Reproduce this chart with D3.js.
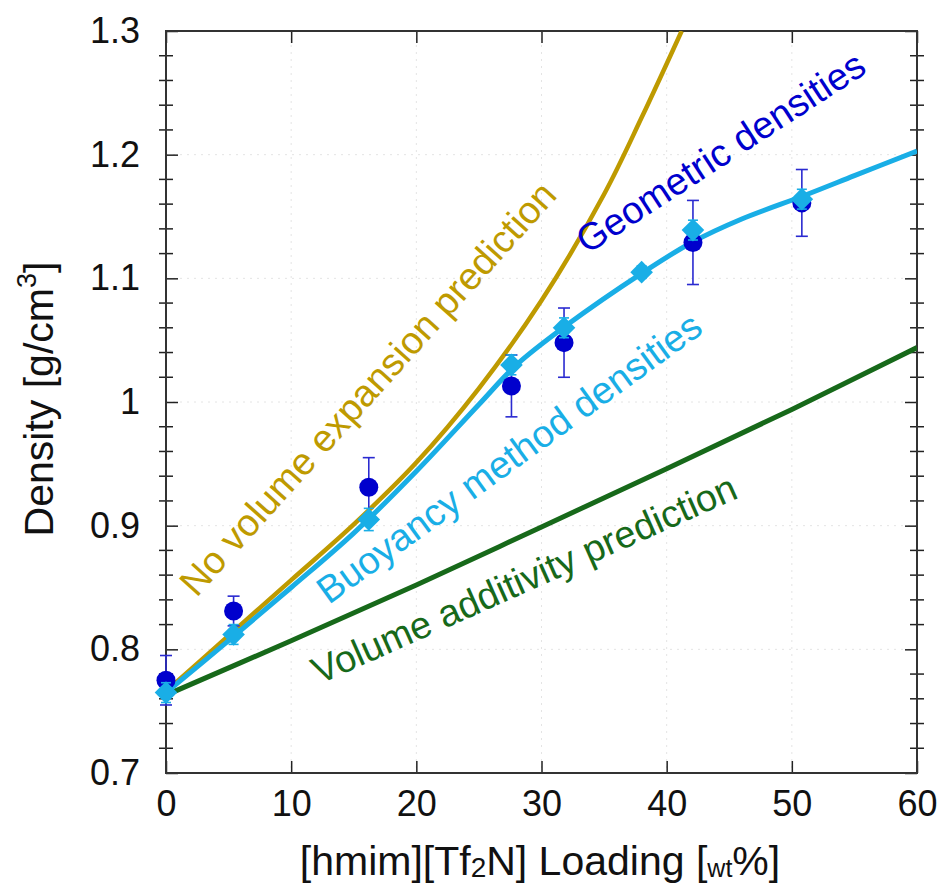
<!DOCTYPE html>
<html>
<head>
<meta charset="utf-8">
<script src="https://cdn.jsdelivr.net/npm/d3@7"></script>
<style>
  body { margin: 0; background: #fff; }
  svg { font-family: "Liberation Sans", Arial, sans-serif; }
</style>
</head>
<body>
<script>
// data
var geoX = [0, 5.4, 16.2, 27.6, 31.8, 42.1, 50.8];
var geoY = [0.775, 0.831, 0.931, 1.013, 1.048, 1.129, 1.161];
var geoErr = [0.02, 0.012, 0.024, 0.025, 0.028, 0.034, 0.027];

var buoyX = [0, 5.4, 16.2, 27.6, 31.8, 38.0, 42.1, 50.8];
var buoyY = [0.765, 0.812, 0.905, 1.030, 1.060, 1.105, 1.139, 1.164];
var buoyErr = [0.008, 0.008, 0.009, 0.008, 0.008, 0.005, 0.008, 0.008];

var fitX = [0, 5, 10, 15, 20, 25, 28, 32, 38, 42, 46, 51, 55, 60];
var fitY = [0.765, 0.807, 0.850, 0.894, 0.944, 0.998, 1.030, 1.062, 1.104, 1.129, 1.148, 1.167, 1.183, 1.203];

var noExpX = [0, 5, 10, 15, 20, 25, 30, 35, 38, 41.2];
var noExpY = [0.766, 0.811, 0.856, 0.901, 0.951, 1.011, 1.082, 1.168, 1.230, 1.300];

var addX = [0, 10, 20, 30, 40, 50, 60];
var addY = [0.763, 0.807, 0.852, 0.899, 0.946, 0.994, 1.044];

var xTicks = [0, 10, 20, 30, 40, 50, 60];
var yTicks = [0.7, 0.8, 0.9, 1.0, 1.1, 1.2, 1.3];
var yTickLabels = ['0.7', '0.8', '0.9', '1', '1.1', '1.2', '1.3'];

var width = 940, height = 886;
var margin = {top: 31, right: 23, bottom: 113, left: 166};
var w = width - margin.left - margin.right;
var h = height - margin.top - margin.bottom;

var gold = '#BE9A00', cyan = '#19AEE6', navy = '#0000CD', green = '#17691A';

var svg = d3.select('body').append('svg').attr('width', width).attr('height', height);
var g = svg.append('g').attr('transform', 'translate(' + margin.left + ',' + margin.top + ')');

var x = d3.scaleLinear().domain([0, 60]).range([0, w]);
var y = d3.scaleLinear().domain([0.7, 1.3]).range([h, 0]);

// faint dotted grid
g.selectAll('.gx').data(xTicks.slice(1, -1)).enter().append('line')
  .attr('x1', function(d) { return x(d); }).attr('x2', function(d) { return x(d); })
  .attr('y1', 0).attr('y2', h)
  .attr('stroke', '#e4e4e4').attr('stroke-dasharray', '2,5');
g.selectAll('.gy').data(yTicks.slice(1, -1)).enter().append('line')
  .attr('y1', function(d) { return y(d); }).attr('y2', function(d) { return y(d); })
  .attr('x1', 0).attr('x2', w)
  .attr('stroke', '#e4e4e4').attr('stroke-dasharray', '2,5');

// axes
var xAxis = d3.axisBottom(x).tickValues(xTicks).tickSize(-12).tickPadding(17);
var xTop = d3.axisTop(x).tickValues(xTicks).tickSize(-12).tickFormat('');
var yAxis = d3.axisLeft(y).tickValues(yTicks).tickSize(-12).tickPadding(26)
  .tickFormat(function(d, i) { return yTickLabels[i]; });
var yRight = d3.axisRight(y).tickValues(yTicks).tickSize(-12).tickFormat('');

function styleAxis(sel) {
  sel.select('.domain').remove();
  sel.selectAll('line').attr('stroke', '#222').attr('stroke-width', 1.5);
  sel.selectAll('text').attr('fill', '#111').style('font-size', '36px')
    .style('font-family', '"Liberation Sans", Arial, sans-serif');
}
g.append('g').attr('transform', 'translate(0,' + h + ')').call(xAxis).call(styleAxis);
g.append('g').call(xTop).call(styleAxis);
g.append('g').call(yAxis).call(styleAxis);
g.append('g').attr('transform', 'translate(' + w + ',0)').call(yRight).call(styleAxis);

// minor y ticks crossing both side axes
var minor = d3.range(0.72, 1.3, 0.02).filter(function(d) {
  return Math.abs(Math.round(d * 10) - d * 10) > 0.01;
});
[0, w].forEach(function(px) {
  g.selectAll(null).data(minor).enter().append('line')
    .attr('x1', px - 7).attr('x2', px + 7)
    .attr('y1', function(d) { return y(d); }).attr('y2', function(d) { return y(d); })
    .attr('stroke', '#222').attr('stroke-width', 1.5);
});

g.append('rect').attr('width', w).attr('height', h)
  .attr('fill', 'none').attr('stroke', '#333').attr('stroke-width', 2);

// curves
var clip = svg.append('clipPath').attr('id', 'plotclip');
clip.append('rect').attr('width', w).attr('height', h);
var curves = g.append('g').attr('clip-path', 'url(#plotclip)');
var line = d3.line().curve(d3.curveCatmullRom)
  .x(function(d) { return x(d[0]); }).y(function(d) { return y(d[1]); });

curves.append('path').datum(d3.zip(addX, addY)).attr('d', line)
  .attr('fill', 'none').attr('stroke', green).attr('stroke-width', 5);
curves.append('path').datum(d3.zip(noExpX, noExpY)).attr('d', line)
  .attr('fill', 'none').attr('stroke', gold).attr('stroke-width', 4.5);
curves.append('path').datum(d3.zip(fitX, fitY)).attr('d', line)
  .attr('fill', 'none').attr('stroke', cyan).attr('stroke-width', 5);

// geometric densities with error bars
var geo = d3.zip(geoX, geoY, geoErr);
var eb = g.append('g');
geo.forEach(function(d) {
  eb.append('line').attr('x1', x(d[0])).attr('x2', x(d[0]))
    .attr('y1', y(d[1] - d[2])).attr('y2', y(d[1] + d[2]));
  [d[1] - d[2], d[1] + d[2]].forEach(function(v) {
    eb.append('line').attr('x1', x(d[0]) - 6).attr('x2', x(d[0]) + 6)
      .attr('y1', y(v)).attr('y2', y(v));
  });
});
eb.selectAll('line').attr('stroke', '#2a2ad0').attr('stroke-width', 1.6);

g.selectAll('.geo').data(geo).enter().append('circle')
  .attr('cx', function(d) { return x(d[0]); }).attr('cy', function(d) { return y(d[1]); })
  .attr('r', 9.5).attr('fill', navy);

// buoyancy densities
var buoy = d3.zip(buoyX, buoyY, buoyErr);
var eb2 = g.append('g');
buoy.forEach(function(d) {
  eb2.append('line').attr('x1', x(d[0])).attr('x2', x(d[0]))
    .attr('y1', y(d[1] - d[2])).attr('y2', y(d[1] + d[2]));
  [d[1] - d[2], d[1] + d[2]].forEach(function(v) {
    eb2.append('line').attr('x1', x(d[0]) - 5).attr('x2', x(d[0]) + 5)
      .attr('y1', y(v)).attr('y2', y(v));
  });
});
eb2.selectAll('line').attr('stroke', cyan).attr('stroke-width', 1.6);

var diamond = d3.symbol().type(d3.symbolSquare).size(256);
g.selectAll('.buoy').data(buoy).enter().append('path')
  .attr('d', diamond)
  .attr('transform', function(d) { return 'translate(' + x(d[0]) + ',' + y(d[1]) + ') rotate(45)'; })
  .attr('fill', cyan);

// curve labels
var labels = [
  {text: 'No volume expansion prediction', lx: 16.1, ly: 1.011, angle: -48, color: gold},
  {text: 'Buoyancy method densities', lx: 27.4, ly: 0.955, angle: -36, color: cyan},
  {text: 'Geometric densities', lx: 44.3, ly: 1.202, angle: -33, color: navy},
  {text: 'Volume additivity prediction', lx: 28.6, ly: 0.857, angle: -24, color: green}
];
g.selectAll('.lab').data(labels).enter().append('text')
  .attr('transform', function(d) { return 'translate(' + x(d.lx) + ',' + y(d.ly) + ') rotate(' + d.angle + ')'; })
  .attr('text-anchor', 'middle').attr('dy', '0.35em')
  .attr('fill', function(d) { return d.color; })
  .style('font-size', '38px')
  .text(function(d) { return d.text; });

// axis titles
var xt = svg.append('text').attr('x', 540).attr('y', 875)
  .attr('text-anchor', 'middle').attr('fill', '#111').style('font-size', '41px');
xt.append('tspan').text('[hmim][Tf');
xt.append('tspan').text('2').style('font-size', '28px').attr('dy', 2);
xt.append('tspan').text('N] Loading [').attr('dy', -2);
xt.append('tspan').text('wt').style('font-size', '25px').attr('dy', 2);
xt.append('tspan').text('%]').attr('dy', -2);

var yt = svg.append('text').attr('transform', 'translate(53,399) rotate(-90)')
  .attr('text-anchor', 'middle').attr('fill', '#111').style('font-size', '41px');
yt.append('tspan').text('Density [g/cm');
yt.append('tspan').text('3').style('font-size', '27px').attr('dy', -17);
yt.append('tspan').text(']').attr('dy', 17);
</script>
</body>
</html>
